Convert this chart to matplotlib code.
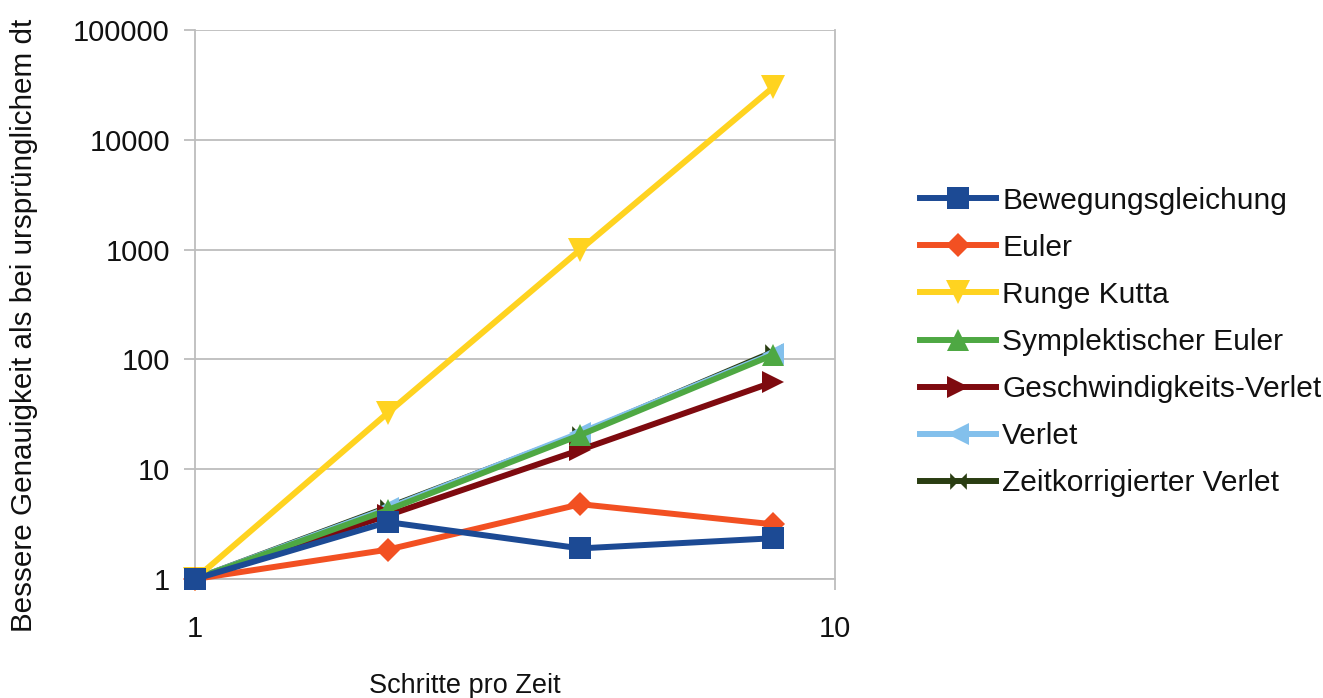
import matplotlib
matplotlib.use("Agg")
import matplotlib.pyplot as plt
from matplotlib.path import Path
from matplotlib.ticker import FixedLocator, FixedFormatter, NullLocator

plt.rcParams['font.family'] = ['Liberation Sans', 'DejaVu Sans']

steps = [1, 2, 4, 8]
series_names = [
    "Bewegungsgleichung",
    "Euler",
    "Runge Kutta",
    "Symplektischer Euler",
    "Geschwindigkeits-Verlet",
    "Verlet",
    "Zeitkorrigierter Verlet",
]
bewegung = [1, 3.3, 1.9, 2.35]
euler = [1, 1.85, 4.8, 3.15]
runge_kutta = [1, 32.5, 1000, 30000]
sympl_euler = [1, 4.25, 20.5, 110]
geschw_verlet = [1, 3.8, 15, 62]
verlet = [1, 4.4, 21.5, 113]
zeit_verlet = [1, 4.5, 21, 117]
values = [bewegung, euler, runge_kutta, sympl_euler, geschw_verlet, verlet, zeit_verlet]

colors = ["#1c4a94", "#f25022", "#ffd320", "#4ea843", "#7e0a0f", "#83c0ec", "#2a3d12"]

# horizontal bow-tie marker: two triangles meeting at the centre
bowtie = Path([(-1, 1), (0, 0), (-1, -1), (-1, 1), (1, 1), (0, 0), (1, -1), (1, 1)],
              [Path.MOVETO, Path.LINETO, Path.LINETO, Path.CLOSEPOLY,
               Path.MOVETO, Path.LINETO, Path.LINETO, Path.CLOSEPOLY])
markers = ["s", "D", "v", "^", ">", "<", bowtie]
msizes = [16, 12, 17, 16, 16, 16, 12]

fig = plt.figure(figsize=(13.23, 6.98), dpi=100)
ax = fig.add_axes([195 / 1323, 1 - 579 / 698, 640 / 1323, 549 / 698])

for i, (name, vals) in enumerate(zip(series_names, values)):
    ax.plot(steps, vals, color=colors[i], lw=4.3, marker=markers[i],
            markersize=msizes[i], markeredgewidth=0, label=name,
            zorder=10 - i, clip_on=False)

ax.set_xscale('log')
ax.set_yscale('log')
ax.set_xlim(1, 10)
ax.set_ylim(1, 100000)

ax.xaxis.set_major_locator(FixedLocator([1, 10]))
ax.xaxis.set_major_formatter(FixedFormatter(["1", "10"]))
ax.xaxis.set_minor_locator(NullLocator())
yt = [1, 10, 100, 1000, 10000, 100000]
ax.yaxis.set_major_locator(FixedLocator(yt))
ax.yaxis.set_major_formatter(FixedFormatter([str(v) for v in yt]))
ax.yaxis.set_minor_locator(NullLocator())

ax.grid(True, axis='y', color='#bdbdbd', lw=1.3)
ax.set_axisbelow(True)
for s in ['left', 'bottom', 'right']:
    ax.spines[s].set_color('#bdbdbd')
    ax.spines[s].set_linewidth(1.3)
ax.spines['top'].set_visible(False)
ax.tick_params(axis='both', labelsize=21, length=8, color='#bdbdbd', width=1.3,
               labelcolor='#111111')
ax.tick_params(axis='x', pad=18)
ax.tick_params(axis='y', pad=10)

fig.text(465 / 1323, 1 - 686 / 698, "Schritte pro Zeit", fontsize=19.5,
         ha='center', va='center', color='#111111')
fig.text(24 / 1323, 1 - 325 / 698, "Bessere Genauigkeit als bei ursprünglichem dt",
         fontsize=21.3, ha='center', va='center', rotation=90, color='#111111')

leg = ax.legend(loc='center left', bbox_to_anchor=(920 / 1323, 1 - 342 / 698),
                bbox_transform=fig.transFigure, frameon=False, fontsize=21.5,
                handlelength=2.55, handletextpad=0.2, labelspacing=0.64,
                borderaxespad=0, borderpad=0)
for t in leg.get_texts():
    t.set_color('#111111')

fig.savefig("out.png", dpi=100, facecolor='white')
